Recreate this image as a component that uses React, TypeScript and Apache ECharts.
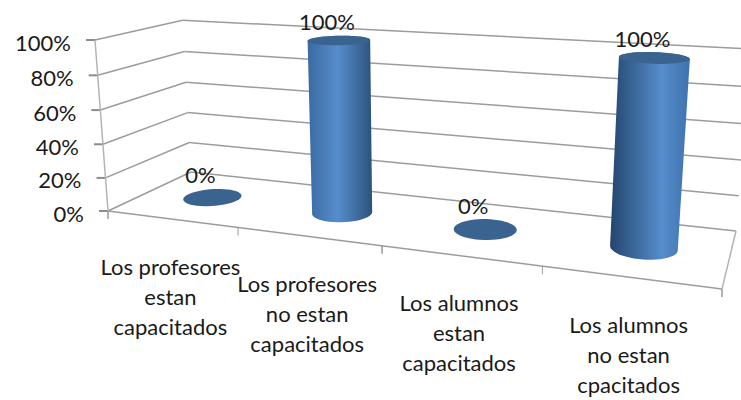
import React, { useEffect, useRef } from "react";
import * as echarts from "echarts";

const categories = [
  "Los profesores\nestan\ncapacitados",
  "Los profesores\nno estan\ncapacitados",
  "Los alumnos\nestan\ncapacitados",
  "Los alumnos\nno estan\ncpacitados",
];
const values = [0, 1, 0, 1];
const yTicks = [0, 0.2, 0.4, 0.6, 0.8, 1];

type Pt = [number, number];
const W = 741;
const H = 400;
const FLOOR: Pt[] = [[108, 211], [722, 289], [736, 231], [191, 172]];
const TOP_LEFT: Pt = [95, 40];
const PERSP = -0.04;

function camera(q: Pt[], topLeft: Pt, i: number) {
  const [[x0, y0], [x1, y1], [x2, y2], [x3, y3]] = q;
  const dx1 = x1 - x2, dx2 = x3 - x2, sx = x0 - x1 + x2 - x3;
  const dy1 = y1 - y2, dy2 = y3 - y2, sy = y0 - y1 + y2 - y3;
  const den = dx1 * dy2 - dx2 * dy1;
  const g = (sx * dy2 - dx2 * sy) / den;
  const h = (dx1 * sy - sx * dy1) / den;
  const a = x1 - x0 + g * x1, b = x3 - x0 + h * x3;
  const d = y1 - y0 + g * y1, e = y3 - y0 + h * y3;
  const cx = topLeft[0] * (1 + i) - x0;
  const cy = topLeft[1] * (1 + i) - y0;
  return (u: number, w: number, v: number): Pt => {
    const k = g * u + h * w + i * v + 1;
    return [(a * u + b * w + cx * v + x0) / k, (d * u + e * w + cy * v + y0) / k];
  };
}
const project = camera(FLOOR, TOP_LEFT, PERSP);

function hull(pts: Pt[]): Pt[] {
  const s = [...pts].sort((a, b) => a[0] - b[0] || a[1] - b[1]);
  const cross = (o: Pt, a: Pt, b: Pt) =>
    (a[0] - o[0]) * (b[1] - o[1]) - (a[1] - o[1]) * (b[0] - o[0]);
  const lo: Pt[] = [];
  for (const p of s) {
    while (lo.length > 1 && cross(lo[lo.length - 2], lo[lo.length - 1], p) <= 0) lo.pop();
    lo.push(p);
  }
  const up: Pt[] = [];
  for (const p of s.slice().reverse()) {
    while (up.length > 1 && cross(up[up.length - 2], up[up.length - 1], p) <= 0) up.pop();
    up.push(p);
  }
  return lo.slice(0, -1).concat(up.slice(0, -1));
}

const RU = 0.05;
const RW = 0.2;
const DEPTH = 0.5;
const FONT = "Lato";
const FS = 22;
const LINE_GAP = 30;
const GRID = "#9c9c9c";
const EDGE = "#b4b4b4";

function circle(u: number, v: number): Pt[] {
  const out: Pt[] = [];
  for (let i = 0; i < 48; i++) {
    const t = (i / 48) * Math.PI * 2;
    out.push(project(u + RU * Math.cos(t), DEPTH + RW * Math.sin(t), v));
  }
  return out;
}

function line(a: Pt, b: Pt, stroke: string, lineWidth = 1.5) {
  return {
    type: "line",
    shape: { x1: a[0], y1: a[1], x2: b[0], y2: b[1] },
    style: { stroke, lineWidth },
  };
}

function text(t: string, x: number, y: number, align: string) {
  return {
    type: "text",
    style: {
      text: t, x, y, align, verticalAlign: "middle",
      fontFamily: FONT, fontSize: FS, fill: "#1a1a1a",
    },
  };
}

export default function App() {
  const ref = useRef<HTMLDivElement>(null);
  useEffect(() => {
    document.body.style.margin = "0";
    const chart = echarts.init(ref.current!, undefined, { renderer: "svg" });

    const toU = (api: any, i: number) => api.coord([i, 0])[0] / W;
    const toV = (api: any, val: number) => 1 - api.coord([0, val])[1] / H;

    const renderWalls = (_: any, api: any) => {
      const val = api.value(0) as number;
      const v = toV(api, val);
      const a = project(0, 0, v), b = project(0, 1, v), c = project(1, 1, v);
      const kids: any[] = [
        line(a, b, GRID),
        line(b, c, GRID),
        line([a[0] - 9, a[1]], a, "#8c8c8c", 2),
        text(`${Math.round(val * 100)}%`, a[0] - 24, a[1] + 2, "right"),
      ];
      return { type: "group", children: kids };
    };

    const renderFloor = () => {
      const kids: any[] = [];
      const fl = project(0, 0, 0), fr = project(1, 0, 0), br = project(1, 1, 0), tl = project(0, 0, 1);
      kids.push(line(fl, fr, GRID));
      kids.push(line(fr, br, EDGE));
      kids.push(line(fl, tl, EDGE));
      [0, 1, 2, 3, 4].forEach((k) => {
        const p = project(k / 4, 0, 0);
        kids.push(line(p, [p[0], p[1] + 8], "#9a9a9a", k % 2 ? 1 : 1.5));
      });
      return { type: "group", children: kids };
    };

    const renderCylinder = (_: any, api: any) => {
      const i = api.value(0) as number;
      const val = api.value(1) as number;
      const u = toU(api, i);
      const v = toV(api, val);
      const base = circle(u, 0);
      const top = circle(u, v);
      const kids: any[] = [];
      if (val > 0) {
        const lit = 0.32 + 0.38 * u;
        const left = u < 0.5 ? "#3a6aa2" : "#24466f";
        const right = u < 0.5 ? "#2c527c" : "#3f72ad";
        kids.push({
          type: "polygon",
          shape: { points: hull(base.concat(top)) },
          style: {
            fill: {
              type: "linear", x: 0, y: 0, x2: 1, y2: 0,
              colorStops: [
                { offset: 0, color: left },
                { offset: lit, color: "#568dcc" },
                { offset: 1, color: right },
              ],
            },
          },
        });
      }
      kids.push({ type: "polygon", shape: { points: top }, style: { fill: "#3b6390" } });
      const ys = top.map((p) => p[1]);
      const xs = top.map((p) => p[0]);
      const cx = (Math.min(...xs) + Math.max(...xs)) / 2;
      kids.push(text(`${Math.round(val * 100)}%`, cx - 12, Math.min(...ys) - 14, "center"));
      const foot = project(u, 0, 0);
      categories[i].split("\n").forEach((part, n) => {
        kids.push(text(part, foot[0] - 1, foot[1] + 47 + n * LINE_GAP, "center"));
      });
      return { type: "group", children: kids };
    };

    chart.setOption({
      animation: false,
      backgroundColor: "#ffffff",
      grid: { left: 0, top: 0, width: W, height: H },
      xAxis: { type: "category", data: categories, show: false },
      yAxis: { type: "value", min: 0, max: 1, interval: 0.2, show: false },
      series: [
        { type: "custom", data: yTicks.map((t) => [t]), encode: { y: 0 }, renderItem: renderWalls, silent: true, z: 1 },
        { type: "custom", data: [[0]], renderItem: renderFloor, silent: true, z: 1 },
        {
          type: "custom",
          data: values.map((val, i) => [i, val]),
          encode: { x: 0, y: 1 },
          renderItem: renderCylinder,
          silent: true,
          z: 2,
        },
      ],
    });
    return () => chart.dispose();
  }, []);
  return <div ref={ref} style={{ width: W, height: H }} />;
}
